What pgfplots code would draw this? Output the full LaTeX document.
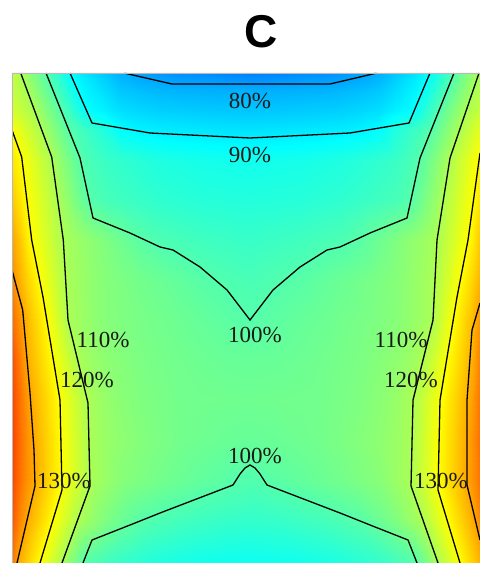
\documentclass[border=0pt]{standalone}
\usepackage{fontspec}
\usepackage{pgfplots}
\pgfplotsset{compat=1.18}
\newfontfamily\titlefont{Liberation Sans}
\newfontfamily\labelfont{Liberation Serif}
\begin{document}
\begin{tikzpicture}
\begin{axis}[
  view={0}{90},
  scale only axis, width=234pt, height=245pt,
  xmin=12, xmax=480, ymin=0, ymax=490,
  enlargelimits=false,
  xtick=\empty, ytick=\empty, ztick=\empty,
  axis line style={draw=none},
  colormap/jet, point meta min=45, point meta max=165,
  clip=true,
]
\addplot3[surf, shader=interp, mesh/cols=36, mesh/ordering=x varies] coordinates {
(12,490,113)(20,490,110.3)(28,490,107.2)(36,490,104)(44,490,100.8)(52,490,97.5)(60,490,94.2)(68,490,90.8)(76,490,88.9)(84,490,87.4)(92,490,85.9)(105,490,83.5)(120,490,80.7)(140,490,79)(160,490,77.75)(180,490,76.8)(200,490,76.5)(225,490,75.7)(250,490,75)(275,490,75.7)(300,490,76.5)(320,490,76.8)(340,490,77.75)(360,490,79)(380,490,80.7)(395,490,83.5)(408,490,85.9)(416,490,87.4)(424,490,88.9)(432,490,90.8)(440,490,94.2)(448,490,97.5)(456,490,100.8)(464,490,104)(472,490,107.2)(480,490,110.3)

(12,473,113)(20,473,111.3)(28,473,109.4)(36,473,106.25)(44,473,103.1)(52,473,100)(60,473,96.9)(68,473,93.7)(76,473,90.6)(84,473,89)(92,473,87.8)(105,473,85.8)(120,473,83.5)(140,473,82.3)(160,473,81.5)(180,473,81)(200,473,80.8)(225,473,80.6)(250,473,80.5)(275,473,80.6)(300,473,80.8)(320,473,81)(340,473,81.5)(360,473,82.3)(380,473,83.5)(395,473,85.8)(408,473,87.8)(416,473,89)(424,473,90.6)(432,473,93.7)(440,473,96.9)(448,473,100)(456,473,103.1)(464,473,106.25)(472,473,109.4)(480,473,111.3)

(12,453,115)(20,453,113.2)(28,453,111.4)(36,453,109.3)(44,453,106.3)(52,453,103.3)(60,453,100.4)(68,453,97.2)(76,453,94)(84,453,90.8)(92,453,89.5)(105,453,88.3)(120,453,86.2)(140,453,85.2)(160,453,84.4)(180,453,84.1)(200,453,83.8)(225,453,83.5)(250,453,83.3)(275,453,83.5)(300,453,83.8)(320,453,84.1)(340,453,84.4)(360,453,85.2)(380,453,86.2)(395,453,88.3)(408,453,89.5)(416,453,90.8)(424,453,94)(432,453,97.2)(440,453,100.4)(448,453,103.3)(456,453,106.3)(464,453,109.3)(472,453,111.4)(480,453,113.2)

(12,433,119.5)(20,433,116.9)(28,433,114.3)(36,433,111.8)(44,433,109.1)(52,433,106.2)(60,433,103.3)(68,433,100.4)(76,433,98.75)(84,433,97.3)(92,433,95.9)(105,433,93.6)(120,433,90.2)(140,433,88.7)(160,433,88)(180,433,87.6)(200,433,87.3)(225,433,87)(250,433,86.8)(275,433,87)(300,433,87.3)(320,433,87.6)(340,433,88)(360,433,88.7)(380,433,90.2)(395,433,93.6)(408,433,95.9)(416,433,97.3)(424,433,98.75)(432,433,100.4)(440,433,103.3)(448,433,106.2)(456,433,109.1)(464,433,111.8)(472,433,114.3)(480,433,116.9)

(12,403,123)(20,403,120.6)(28,403,118)(36,403,115.3)(44,403,112.7)(52,403,110)(60,403,107.1)(68,403,104.3)(76,403,101.4)(84,403,99.4)(92,403,98.2)(105,403,96.7)(120,403,95.7)(140,403,94.5)(160,403,93.5)(180,403,93)(200,403,92.5)(225,403,92.25)(250,403,92)(275,403,92.25)(300,403,92.5)(320,403,93)(340,403,93.5)(360,403,94.5)(380,403,95.7)(395,403,96.7)(408,403,98.2)(416,403,99.4)(424,403,101.4)(432,403,104.3)(440,403,107.1)(448,403,110)(456,403,112.7)(464,403,115.3)(472,403,118)(480,403,120.6)

(12,363,126.5)(20,363,123)(28,363,119.7)(36,363,117.1)(44,363,114.5)(52,363,111.9)(60,363,109.4)(68,363,106.8)(76,363,104.2)(84,363,101.6)(92,363,99.7)(105,363,98.4)(120,363,97.5)(140,363,96.5)(160,363,95.5)(180,363,95)(200,363,94.5)(225,363,94.25)(250,363,94)(275,363,94.25)(300,363,94.5)(320,363,95)(340,363,95.5)(360,363,96.5)(380,363,97.5)(395,363,98.4)(408,363,99.7)(416,363,101.6)(424,363,104.2)(432,363,106.8)(440,363,109.4)(448,363,111.9)(456,363,114.5)(464,363,117.1)(472,363,119.7)(480,363,123)

(12,323,131)(20,323,126.5)(28,323,121.7)(36,323,118.7)(44,323,116.1)(52,323,113.5)(60,323,111)(68,323,109.4)(76,323,108.4)(84,323,107.4)(92,323,106.5)(105,323,104.9)(120,323,103)(140,323,100.6)(160,323,99)(180,323,98.25)(200,323,97.5)(225,323,97)(250,323,96.5)(275,323,97)(300,323,97.5)(320,323,98.25)(340,323,99)(360,323,100.6)(380,323,103)(395,323,104.9)(408,323,106.5)(416,323,107.4)(424,323,108.4)(432,323,109.4)(440,323,111)(448,323,113.5)(456,323,116.1)(464,323,118.7)(472,323,121.7)(480,323,126.5)

(12,283,134)(20,283,129)(28,283,124.8)(36,283,121.6)(44,283,118.5)(52,283,115.4)(60,283,112.3)(68,283,109.8)(76,283,108.8)(84,283,107.9)(92,283,106.9)(105,283,105.7)(120,283,104.7)(140,283,103.5)(160,283,102.5)(180,283,101.4)(200,283,100.3)(225,283,99.4)(250,283,98.5)(275,283,99.4)(300,283,100.3)(320,283,101.4)(340,283,102.5)(360,283,103.5)(380,283,104.7)(395,283,105.7)(408,283,106.9)(416,283,107.9)(424,283,108.8)(432,283,109.8)(440,283,112.3)(448,283,115.4)(456,283,118.5)(464,283,121.6)(472,283,124.8)(480,283,129)

(12,243,137.5)(20,243,132.5)(28,243,127.9)(36,243,124.6)(44,243,121.25)(52,243,117.6)(60,243,113.8)(68,243,110)(76,243,109)(84,243,108)(92,243,107)(105,243,105.75)(120,243,105)(140,243,104.1)(160,243,103.4)(180,243,102.6)(200,243,101.9)(225,243,100.9)(250,243,100)(275,243,100.9)(300,243,101.9)(320,243,102.6)(340,243,103.4)(360,243,104.1)(380,243,105)(395,243,105.75)(408,243,107)(416,243,108)(424,243,109)(432,243,110)(440,243,113.8)(448,243,117.6)(456,243,121.25)(464,243,124.6)(472,243,127.9)(480,243,132.5)

(12,203,141)(20,203,135)(28,203,129.3)(36,203,126.3)(44,203,123.3)(52,203,120.4)(60,203,117.1)(68,203,113.9)(76,203,110.7)(84,203,109.1)(92,203,108)(105,203,106.7)(120,203,105.7)(140,203,104.6)(160,203,103.9)(180,203,103.25)(200,203,102.75)(225,203,102.3)(250,203,102)(275,203,102.3)(300,203,102.75)(320,203,103.25)(340,203,103.9)(360,203,104.6)(380,203,105.7)(395,203,106.7)(408,203,108)(416,203,109.1)(424,203,110.7)(432,203,113.9)(440,203,117.1)(448,203,120.4)(456,203,123.3)(464,203,126.3)(472,203,129.3)(480,203,135)

(12,163,142)(20,163,136.5)(28,163,131.3)(36,163,128.2)(44,163,125.4)(52,163,122.5)(60,163,119.6)(68,163,116.8)(76,163,114)(84,163,111.2)(92,163,109.4)(105,163,107.7)(120,163,106.3)(140,163,105)(160,163,104.25)(180,163,103.5)(200,163,103.35)(225,163,103.2)(250,163,103)(275,163,103.2)(300,163,103.35)(320,163,103.5)(340,163,104.25)(360,163,105)(380,163,106.3)(395,163,107.7)(408,163,109.4)(416,163,111.2)(424,163,114)(432,163,116.8)(440,163,119.6)(448,163,122.5)(456,163,125.4)(464,163,128.2)(472,163,131.3)(480,163,136.5)

(12,123,142.5)(20,123,137)(28,123,132.5)(36,123,129.3)(44,123,126.3)(52,123,123.3)(60,123,120.4)(68,123,117.5)(76,123,114.6)(84,123,111.8)(92,123,109.6)(105,123,108)(120,123,106.8)(140,123,105.5)(160,123,104.5)(180,123,103.5)(200,123,103)(225,123,102.4)(250,123,102)(275,123,102.4)(300,123,103)(320,123,103.5)(340,123,104.5)(360,123,105.5)(380,123,106.8)(395,123,108)(408,123,109.6)(416,123,111.8)(424,123,114.6)(432,123,117.5)(440,123,120.4)(448,123,123.3)(456,123,126.3)(464,123,129.3)(472,123,132.5)(480,123,137)

(12,83,142)(20,83,136.5)(28,83,132.4)(36,83,129.6)(44,83,126.6)(52,83,123.6)(60,83,120.6)(68,83,117.7)(76,83,114.9)(84,83,112.1)(92,83,109.7)(105,83,108)(120,83,106)(140,83,104.75)(160,83,103.5)(180,83,102.5)(200,83,101.5)(225,83,100.5)(250,83,99.5)(275,83,100.5)(300,83,101.5)(320,83,102.5)(340,83,103.5)(360,83,104.75)(380,83,106)(395,83,108)(408,83,109.7)(416,83,112.1)(424,83,114.9)(432,83,117.7)(440,83,120.6)(448,83,123.6)(456,83,126.6)(464,83,129.6)(472,83,132.4)(480,83,136.5)

(12,43,140)(20,43,134)(28,43,129.6)(36,43,126.5)(44,43,123.5)(52,43,120.4)(60,43,117.2)(68,43,114)(76,43,110.8)(84,43,108.9)(92,43,107.4)(105,43,104.9)(120,43,102.75)(140,43,100.25)(160,43,99.05)(180,43,98)(200,43,97.25)(225,43,96.4)(250,43,96)(275,43,96.4)(300,43,97.25)(320,43,98)(340,43,99.05)(360,43,100.25)(380,43,102.75)(395,43,104.9)(408,43,107.4)(416,43,108.9)(424,43,110.8)(432,43,114)(440,43,117.2)(448,43,120.4)(456,43,123.5)(464,43,126.5)(472,43,129.6)(480,43,134)

(12,0,136)(20,0,129)(28,0,125.2)(36,0,121.7)(44,0,118.2)(52,0,114.5)(60,0,110.9)(68,0,107.1)(76,0,103.3)(84,0,99.9)(92,0,99)(105,0,97.6)(120,0,96)(140,0,94.75)(160,0,93.5)(180,0,92.75)(200,0,92)(225,0,91.75)(250,0,91.5)(275,0,91.75)(300,0,92)(320,0,92.75)(340,0,93.5)(360,0,94.75)(380,0,96)(395,0,97.6)(408,0,99)(416,0,99.9)(424,0,103.3)(432,0,107.1)(440,0,110.9)(448,0,114.5)(456,0,118.2)(464,0,121.7)(472,0,125.2)(480,0,129)
};
% contour lines
\addplot3[black, line width=0.65pt] coordinates {(124,490,80)(172,479,80)(330,479,80)(377,490,80)};
\addplot3[black, line width=0.65pt] coordinates {(70,490,90)(92,440,90)(150,430,90)(250,425,90)(350,430,90)(409,440,90)(430,490,90)};
\addplot3[black, line width=0.65pt] coordinates {(46,490,100)(80,405,100)(93,345,100)(130,330,100)(160,316,100)(173,313,100)(200,296,100)(227,273,100)(250,243,100)(273,273,100)(300,296,100)(327,313,100)(340,316,100)(370,330,100)(407,345,100)(420,405,100)(454,490,100)};
\addplot3[black, line width=0.65pt] coordinates {(83,0,100)(92,23,100)(130,38,100)(160,50,100)(233,78,100)(240,89,100)(245,95,100)(250,98,100)(255,95,100)(260,89,100)(267,78,100)(340,50,100)(370,38,100)(408,23,100)(417,0,100)};
\addplot3[black, line width=0.65pt] coordinates {(20.7,490,110)(51.7,406,110)(63.3,323,110)(68,243,110)(88,160,110)(90,77,110)(62,0,110)};
\addplot3[black, line width=0.65pt] coordinates {(479,490,110)(450,405,110)(437,323,110)(433,243,110)(413,163,110)(411,77,110)(438,0,110)};
\addplot3[black, line width=0.65pt] coordinates {(12,433,120)(21.7,406,120)(31.7,323,120)(43,266,120)(60,163,120)(62,73,120)(40,0,120)};
\addplot3[black, line width=0.65pt] coordinates {(480,410,120)(468,323,120)(457,266,120)(440,163,120)(438,73,120)(460,0,120)};
\addplot3[black, line width=0.65pt] coordinates {(12,293,130)(22.7,253,130)(30,170,130)(34,113,130)(35,77,130)(17,0,130)};
\addplot3[black, line width=0.65pt] coordinates {(480,260,130)(472,233,130)(467,163,130)(467,78,130)(480,23,130)};
% labels
\begin{scope}[every node/.style={font=\labelfont\fontsize{11.5}{13}\selectfont, text=black!90, inner sep=0pt}]
\node at (axis cs:250,462,140) {80\%};
\node at (axis cs:250,408,140) {90\%};
\node at (axis cs:255,228,140) {100\%};
\node at (axis cs:255,107,140) {100\%};
\node at (axis cs:103,223,140) {110\%};
\node at (axis cs:87,183,140) {120\%};
\node at (axis cs:64,82,140) {130\%};
\node at (axis cs:401,223,140) {110\%};
\node at (axis cs:411,183,140) {120\%};
\node at (axis cs:441,82,140) {130\%};
\end{scope}
\draw[gray!55, line width=0.6pt] (rel axis cs:0,0,0) -- (rel axis cs:0,1,0) -- (rel axis cs:1,1,0);
\coordinate (A) at (rel axis cs:0,0,0);
\coordinate (B) at (rel axis cs:1,1,0);
\coordinate (T) at (axis cs:261,531.5,0);
\end{axis}
\pgfresetboundingbox
\path ([xshift=-6pt]A) rectangle ([yshift=36.5pt]B);
\node[font=\titlefont\bfseries\fontsize{23}{26}\selectfont, inner sep=0pt] at (T) {C};
\end{tikzpicture}
\end{document}
